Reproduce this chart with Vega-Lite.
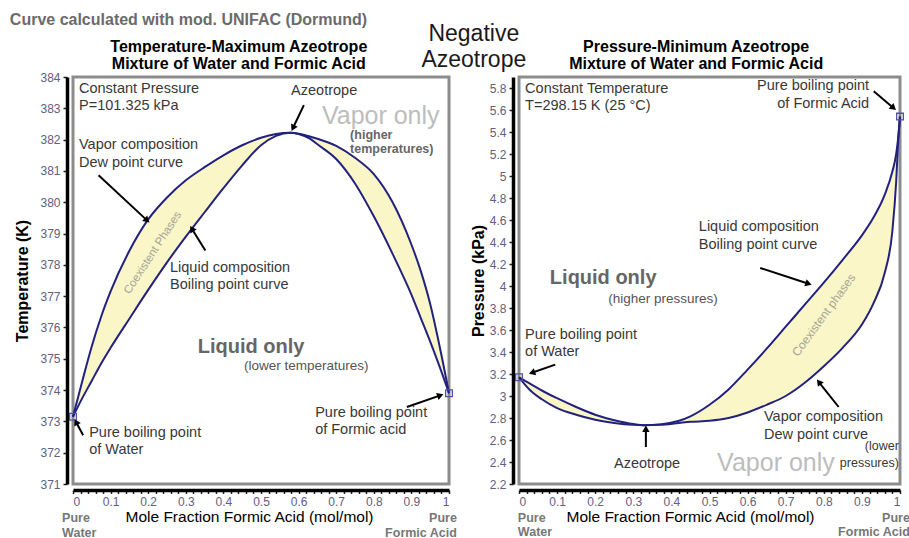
{
  "$schema": "https://vega.github.io/schema/vega-lite/v6.json",
  "padding": {"left": 8, "top": 10, "right": 0, "bottom": 0},
  "background": "white",
  "spacing": 70,
  "bounds": "flush",
  "config": {
    "font": "Liberation Sans",
    "view": {"stroke": "#8c8c8c", "strokeWidth": 3},
    "axis": {"grid": false, "domain": true, "domainColor": "black", "domainWidth": 3.5, "tickColor": "#222", "tickWidth": 1.5, "tickSize": 4, "labelColor": "#606080", "labelFont": "Liberation Sans", "labelFontSize": 12, "labelPadding": 3, "titleColor": "black", "titleFont": "Liberation Sans", "offset": 6},
    "axisX": {"tickCount": 50, "labelExpr": "round(datum.value*50) % 5 == 0 ? format(datum.value, '~g') : ''", "labelOverlap": false, "titleFontSize": 15.5, "titleFontWeight": "normal", "tickSize": 3.5, "labelPadding": 3, "titleY": 26, "titleBaseline": "middle"},
    "axisY": {"titleFontSize": 16, "titleFontWeight": "bold", "format": "~g"}
  },
  "datasets": {
    "L": [
      {"x": 0, "dew": 373.15, "bub": 373.15},
      {"x": 0.025, "dew": 374.3, "bub": 373.75},
      {"x": 0.05, "dew": 375.4, "bub": 374.3},
      {"x": 0.075, "dew": 376.35, "bub": 374.85},
      {"x": 0.1, "dew": 377.15, "bub": 375.35},
      {"x": 0.15, "dew": 378.45, "bub": 376.28},
      {"x": 0.2, "dew": 379.45, "bub": 377.2},
      {"x": 0.25, "dew": 380.15, "bub": 378.08},
      {"x": 0.3, "dew": 380.7, "bub": 378.9},
      {"x": 0.35, "dew": 381.12, "bub": 379.68},
      {"x": 0.4, "dew": 381.5, "bub": 380.45},
      {"x": 0.45, "dew": 381.82, "bub": 381.18},
      {"x": 0.5, "dew": 382.06, "bub": 381.82},
      {"x": 0.54, "dew": 382.18, "bub": 382.12},
      {"x": 0.578, "dew": 382.22, "bub": 382.22},
      {"x": 0.6, "dew": 382.19, "bub": 382.18},
      {"x": 0.63, "dew": 382.1, "bub": 382.03},
      {"x": 0.65, "dew": 382.03, "bub": 381.85},
      {"x": 0.7, "dew": 381.8, "bub": 381.38},
      {"x": 0.75, "dew": 381.42, "bub": 380.6},
      {"x": 0.8, "dew": 380.9, "bub": 379.55},
      {"x": 0.85, "dew": 380.0, "bub": 378.35},
      {"x": 0.9, "dew": 378.65, "bub": 377.05},
      {"x": 0.925, "dew": 377.8, "bub": 376.3},
      {"x": 0.95, "dew": 376.75, "bub": 375.55},
      {"x": 0.975, "dew": 375.4, "bub": 374.75},
      {"x": 1.0, "dew": 373.9, "bub": 373.9}
    ],
    "R": [
      {"x": 0, "liq": 3.17, "vap": 3.17},
      {"x": 0.03, "liq": 3.11, "vap": 3.05},
      {"x": 0.06, "liq": 3.05, "vap": 2.97},
      {"x": 0.1, "liq": 2.98, "vap": 2.89},
      {"x": 0.15, "liq": 2.9, "vap": 2.83},
      {"x": 0.2, "liq": 2.83, "vap": 2.785},
      {"x": 0.25, "liq": 2.78, "vap": 2.755},
      {"x": 0.3, "liq": 2.745, "vap": 2.738},
      {"x": 0.33, "liq": 2.735, "vap": 2.735},
      {"x": 0.37, "liq": 2.742, "vap": 2.738},
      {"x": 0.42, "liq": 2.775, "vap": 2.755},
      {"x": 0.45, "liq": 2.815, "vap": 2.765},
      {"x": 0.5, "liq": 2.92, "vap": 2.775},
      {"x": 0.55, "liq": 3.06, "vap": 2.8},
      {"x": 0.6, "liq": 3.24, "vap": 2.85},
      {"x": 0.65, "liq": 3.43, "vap": 2.92},
      {"x": 0.7, "liq": 3.63, "vap": 3.0},
      {"x": 0.75, "liq": 3.83, "vap": 3.12},
      {"x": 0.8, "liq": 4.03, "vap": 3.27},
      {"x": 0.85, "liq": 4.24, "vap": 3.44},
      {"x": 0.9, "liq": 4.46, "vap": 3.65},
      {"x": 0.93, "liq": 4.62, "vap": 3.84},
      {"x": 0.96, "liq": 4.83, "vap": 4.12},
      {"x": 0.98, "liq": 5.04, "vap": 4.5},
      {"x": 0.99, "liq": 5.2, "vap": 4.95},
      {"x": 0.995, "liq": 5.34, "vap": 5.3},
      {"x": 1.0, "liq": 5.54, "vap": 5.54}
    ],
    "Lpts": [{"x": 0, "y": 373.15}, {"x": 1, "y": 373.9}],
    "Rpts": [{"x": 0, "y": 3.17}, {"x": 1, "y": 5.54}],
    "Larr": [
      {"x": 0.614, "y": 383.1, "x2": 0.585, "y2": 382.37},
      {"x": 0.068, "y": 380.86, "x2": 0.197, "y2": 379.42},
      {"x": 0.352, "y": 378.46, "x2": 0.316, "y2": 379.15},
      {"x": 0.027, "y": 372.56, "x2": 0.008, "y2": 372.98},
      {"x": 0.888, "y": 373.46, "x2": 0.977, "y2": 373.83}
    ],
    "Rarr": [
      {"x": 0.931, "y": 5.77, "x2": 0.983, "y2": 5.618},
      {"x": 0.633, "y": 4.164, "x2": 0.76, "y2": 4.021},
      {"x": 0.095, "y": 3.285, "x2": 0.034, "y2": 3.212},
      {"x": 0.333, "y": 2.536, "x2": 0.333, "y2": 2.703},
      {"x": 0.839, "y": 2.9, "x2": 0.787, "y2": 3.127}
    ],
    "Ltxt": [
      {"x": 0.016, "y": 383.62, "t": "Constant Pressure\nP=101.325 kPa"},
      {"x": 0.016, "y": 381.82, "t": "Vapor composition\nDew point curve"},
      {"x": 0.258, "y": 377.9, "t": "Liquid composition\nBoiling point curve"},
      {"x": 0.043, "y": 372.63, "t": "Pure boiling point\nof Water"},
      {"x": 0.644, "y": 373.27, "t": "Pure boiling point\nof Formic acid"}
    ],
    "Rtxt": [
      {"x": 0.016, "y": 5.791, "t": "Constant Temperature\nT=298.15 K (25 °C)"},
      {"x": 0.472, "y": 4.536, "t": "Liquid composition\nBoiling point curve"},
      {"x": 0.016, "y": 3.555, "t": "Pure boiling point\nof Water"},
      {"x": 0.643, "y": 2.809, "t": "Vapor composition\nDew point curve"}
    ]
  },
  "hconcat": [
    {
      "width": 376,
      "height": 407,
      "layer": [
        {
          "data": {"name": "L"},
          "mark": {"type": "area", "color": "#faf6c8", "opacity": 1, "interpolate": "monotone"},
          "encoding": {
            "x": {"field": "x", "type": "quantitative", "scale": {"domain": [0, 1], "nice": false, "zero": false}, "axis": {"title": "Mole Fraction Formic Acid (mol/mol)", "titleX": 176}},
            "y": {"field": "dew", "type": "quantitative", "scale": {"domain": [371, 384], "nice": false, "zero": false}, "axis": {"title": "Temperature (K)", "tickCount": 13, "titlePadding": 9}},
            "y2": {"field": "bub"}
          }
        },
        {
          "data": {"name": "L"},
          "mark": {"type": "line", "color": "#22227e", "strokeWidth": 2, "interpolate": "monotone"},
          "encoding": {
            "x": {"field": "x", "type": "quantitative", "scale": {"domain": [0, 1], "nice": false, "zero": false}},
            "y": {"field": "dew", "type": "quantitative", "scale": {"domain": [371, 384], "nice": false, "zero": false}}
          }
        },
        {
          "data": {"name": "L"},
          "mark": {"type": "line", "color": "#22227e", "strokeWidth": 2, "interpolate": "monotone"},
          "encoding": {
            "x": {"field": "x", "type": "quantitative", "scale": {"domain": [0, 1], "nice": false, "zero": false}},
            "y": {"field": "bub", "type": "quantitative", "scale": {"domain": [371, 384], "nice": false, "zero": false}}
          }
        },
        {
          "data": {"name": "Lpts"},
          "mark": {"type": "point", "shape": "square", "filled": false, "color": "#5050a8", "size": 45, "strokeWidth": 1.3, "opacity": 1},
          "encoding": {
            "x": {"field": "x", "type": "quantitative", "scale": {"domain": [0, 1], "nice": false, "zero": false}},
            "y": {"field": "y", "type": "quantitative", "scale": {"domain": [371, 384], "nice": false, "zero": false}}
          }
        },
        {
          "data": {"name": "Larr"},
          "mark": {"type": "rule", "color": "black", "strokeWidth": 2},
          "encoding": {
            "x": {"field": "x", "type": "quantitative", "scale": {"domain": [0, 1], "nice": false, "zero": false}},
            "y": {"field": "y", "type": "quantitative", "scale": {"domain": [371, 384], "nice": false, "zero": false}},
            "x2": {"field": "x2"},
            "y2": {"field": "y2"}
          }
        },
        {
          "data": {"name": "Larr"},
          "transform": [{"calculate": "atan2((datum.x2-datum.x)*376, (datum.y2-datum.y)*31.3)*180/PI", "as": "ang"}],
          "mark": {"type": "point", "shape": "triangle-up", "filled": true, "color": "black", "size": 55, "opacity": 1},
          "encoding": {
            "x": {"field": "x2", "type": "quantitative", "scale": {"domain": [0, 1], "nice": false, "zero": false}},
            "y": {"field": "y2", "type": "quantitative", "scale": {"domain": [371, 384], "nice": false, "zero": false}},
            "angle": {"field": "ang", "type": "quantitative", "scale": null}
          }
        },
        {
          "data": {"name": "Ltxt"},
          "mark": {"type": "text", "align": "left", "baseline": "middle", "lineBreak": "\n", "lineHeight": 17.5, "fontSize": 14.5, "color": "#383838"},
          "encoding": {
            "x": {"field": "x", "type": "quantitative", "scale": {"domain": [0, 1], "nice": false, "zero": false}},
            "y": {"field": "y", "type": "quantitative", "scale": {"domain": [371, 384], "nice": false, "zero": false}},
            "text": {"field": "t"}
          }
        },
        {
          "data": {"values": [{"x": 0.668, "y": 383.55, "t": "Azeotrope"}]},
          "mark": {"type": "text", "align": "center", "baseline": "middle", "fontSize": 14.5, "color": "#383838"},
          "encoding": {
            "x": {"field": "x", "type": "quantitative", "scale": {"domain": [0, 1], "nice": false, "zero": false}},
            "y": {"field": "y", "type": "quantitative", "scale": {"domain": [371, 384], "nice": false, "zero": false}},
            "text": {"field": "t"}
          }
        },
        {
          "data": {"values": [{"x": 0.662, "y": 382.75, "t": "Vapor only"}]},
          "mark": {"type": "text", "align": "left", "baseline": "middle", "fontSize": 25, "color": "#bdbdbd"},
          "encoding": {
            "x": {"field": "x", "type": "quantitative", "scale": {"domain": [0, 1], "nice": false, "zero": false}},
            "y": {"field": "y", "type": "quantitative", "scale": {"domain": [371, 384], "nice": false, "zero": false}},
            "text": {"field": "t"}
          }
        },
        {
          "data": {"values": [{"x": 0.737, "y": 382.16, "t": "(higher\ntemperatures)"}]},
          "mark": {"type": "text", "align": "left", "baseline": "middle", "lineBreak": "\n", "lineHeight": 14.5, "fontSize": 12.5, "fontWeight": "bold", "color": "#666666"},
          "encoding": {
            "x": {"field": "x", "type": "quantitative", "scale": {"domain": [0, 1], "nice": false, "zero": false}},
            "y": {"field": "y", "type": "quantitative", "scale": {"domain": [371, 384], "nice": false, "zero": false}},
            "text": {"field": "t"}
          }
        },
        {
          "data": {"values": [{"x": 0.332, "y": 375.37, "t": "Liquid only"}]},
          "mark": {"type": "text", "align": "left", "baseline": "middle", "fontSize": 20, "fontWeight": "bold", "color": "#666666"},
          "encoding": {
            "x": {"field": "x", "type": "quantitative", "scale": {"domain": [0, 1], "nice": false, "zero": false}},
            "y": {"field": "y", "type": "quantitative", "scale": {"domain": [371, 384], "nice": false, "zero": false}},
            "text": {"field": "t"}
          }
        },
        {
          "data": {"values": [{"x": 0.455, "y": 374.77, "t": "(lower temperatures)"}]},
          "mark": {"type": "text", "align": "left", "baseline": "middle", "fontSize": 13.5, "color": "#555555"},
          "encoding": {
            "x": {"field": "x", "type": "quantitative", "scale": {"domain": [0, 1], "nice": false, "zero": false}},
            "y": {"field": "y", "type": "quantitative", "scale": {"domain": [371, 384], "nice": false, "zero": false}},
            "text": {"field": "t"}
          }
        },
        {
          "data": {"values": [{"x": 0.213, "y": 378.38, "t": "Coexistent Phases"}]},
          "mark": {"type": "text", "align": "center", "baseline": "middle", "fontSize": 11.5, "angle": -57, "color": "#a4a494"},
          "encoding": {
            "x": {"field": "x", "type": "quantitative", "scale": {"domain": [0, 1], "nice": false, "zero": false}},
            "y": {"field": "y", "type": "quantitative", "scale": {"domain": [371, 384], "nice": false, "zero": false}},
            "text": {"field": "t"}
          }
        },
        {
          "data": {"values": [{"x": -0.029, "y": 369.91, "t": "Pure\nWater"}]},
          "mark": {"type": "text", "align": "left", "baseline": "middle", "lineBreak": "\n", "lineHeight": 14.5, "fontSize": 12.5, "fontWeight": "bold", "color": "#777777"},
          "encoding": {
            "x": {"field": "x", "type": "quantitative", "scale": {"domain": [0, 1], "nice": false, "zero": false}},
            "y": {"field": "y", "type": "quantitative", "scale": {"domain": [371, 384], "nice": false, "zero": false}},
            "text": {"field": "t"}
          }
        },
        {
          "data": {"values": [{"x": 1.021, "y": 369.91, "t": "Pure\nFormic Acid"}]},
          "mark": {"type": "text", "align": "right", "baseline": "middle", "lineBreak": "\n", "lineHeight": 14.5, "fontSize": 12.5, "fontWeight": "bold", "color": "#777777"},
          "encoding": {
            "x": {"field": "x", "type": "quantitative", "scale": {"domain": [0, 1], "nice": false, "zero": false}},
            "y": {"field": "y", "type": "quantitative", "scale": {"domain": [371, 384], "nice": false, "zero": false}},
            "text": {"field": "t"}
          }
        },
        {
          "data": {"values": [{"x": -0.168, "y": 385.82, "t": "Curve calculated with mod. UNIFAC (Dormund)"}]},
          "mark": {"type": "text", "align": "left", "baseline": "middle", "fontSize": 16, "fontWeight": "bold", "color": "#6b6b6b"},
          "encoding": {
            "x": {"field": "x", "type": "quantitative", "scale": {"domain": [0, 1], "nice": false, "zero": false}},
            "y": {"field": "y", "type": "quantitative", "scale": {"domain": [371, 384], "nice": false, "zero": false}},
            "text": {"field": "t"}
          }
        },
        {
          "data": {"values": [{"x": 0.441, "y": 384.96, "t": "Temperature-Maximum Azeotrope\nMixture of Water and Formic Acid"}]},
          "mark": {"type": "text", "align": "center", "baseline": "middle", "lineBreak": "\n", "lineHeight": 17.5, "fontSize": 16, "fontWeight": "bold", "color": "black"},
          "encoding": {
            "x": {"field": "x", "type": "quantitative", "scale": {"domain": [0, 1], "nice": false, "zero": false}},
            "y": {"field": "y", "type": "quantitative", "scale": {"domain": [371, 384], "nice": false, "zero": false}},
            "text": {"field": "t"}
          }
        },
        {
          "data": {"values": [{"x": 1.066, "y": 385.37, "t": "Negative\nAzeotrope"}]},
          "mark": {"type": "text", "align": "center", "baseline": "middle", "lineBreak": "\n", "lineHeight": 26, "fontSize": 23, "color": "#1a1a1a"},
          "encoding": {
            "x": {"field": "x", "type": "quantitative", "scale": {"domain": [0, 1], "nice": false, "zero": false}},
            "y": {"field": "y", "type": "quantitative", "scale": {"domain": [371, 384], "nice": false, "zero": false}},
            "text": {"field": "t"}
          }
        }
      ]
    },
    {
      "width": 381,
      "height": 407,
      "layer": [
        {
          "data": {"name": "R"},
          "mark": {"type": "area", "color": "#faf6c8", "opacity": 1, "interpolate": "monotone"},
          "encoding": {
            "x": {"field": "x", "type": "quantitative", "scale": {"domain": [0, 1], "nice": false, "zero": false}, "axis": {"title": "Mole Fraction Formic Acid (mol/mol)", "titleX": 171}},
            "y": {"field": "liq", "type": "quantitative", "scale": {"domain": [2.2, 5.9], "nice": false, "zero": false}, "axis": {"title": "Pressure (kPa)", "tickCount": 18, "titlePadding": 3}},
            "y2": {"field": "vap"}
          }
        },
        {
          "data": {"name": "R"},
          "mark": {"type": "line", "color": "#22227e", "strokeWidth": 2, "interpolate": "monotone"},
          "encoding": {
            "x": {"field": "x", "type": "quantitative", "scale": {"domain": [0, 1], "nice": false, "zero": false}},
            "y": {"field": "liq", "type": "quantitative", "scale": {"domain": [2.2, 5.9], "nice": false, "zero": false}}
          }
        },
        {
          "data": {"name": "R"},
          "mark": {"type": "line", "color": "#22227e", "strokeWidth": 2, "interpolate": "monotone"},
          "encoding": {
            "x": {"field": "x", "type": "quantitative", "scale": {"domain": [0, 1], "nice": false, "zero": false}},
            "y": {"field": "vap", "type": "quantitative", "scale": {"domain": [2.2, 5.9], "nice": false, "zero": false}}
          }
        },
        {
          "data": {"name": "Rpts"},
          "mark": {"type": "point", "shape": "square", "filled": false, "color": "#5050a8", "size": 45, "strokeWidth": 1.3, "opacity": 1},
          "encoding": {
            "x": {"field": "x", "type": "quantitative", "scale": {"domain": [0, 1], "nice": false, "zero": false}},
            "y": {"field": "y", "type": "quantitative", "scale": {"domain": [2.2, 5.9], "nice": false, "zero": false}}
          }
        },
        {
          "data": {"name": "Rarr"},
          "mark": {"type": "rule", "color": "black", "strokeWidth": 2},
          "encoding": {
            "x": {"field": "x", "type": "quantitative", "scale": {"domain": [0, 1], "nice": false, "zero": false}},
            "y": {"field": "y", "type": "quantitative", "scale": {"domain": [2.2, 5.9], "nice": false, "zero": false}},
            "x2": {"field": "x2"},
            "y2": {"field": "y2"}
          }
        },
        {
          "data": {"name": "Rarr"},
          "transform": [{"calculate": "atan2((datum.x2-datum.x)*381, (datum.y2-datum.y)*110)*180/PI", "as": "ang"}],
          "mark": {"type": "point", "shape": "triangle-up", "filled": true, "color": "black", "size": 55, "opacity": 1},
          "encoding": {
            "x": {"field": "x2", "type": "quantitative", "scale": {"domain": [0, 1], "nice": false, "zero": false}},
            "y": {"field": "y2", "type": "quantitative", "scale": {"domain": [2.2, 5.9], "nice": false, "zero": false}},
            "angle": {"field": "ang", "type": "quantitative", "scale": null}
          }
        },
        {
          "data": {"name": "Rtxt"},
          "mark": {"type": "text", "align": "left", "baseline": "middle", "lineBreak": "\n", "lineHeight": 17.5, "fontSize": 14.5, "color": "#383838"},
          "encoding": {
            "x": {"field": "x", "type": "quantitative", "scale": {"domain": [0, 1], "nice": false, "zero": false}},
            "y": {"field": "y", "type": "quantitative", "scale": {"domain": [2.2, 5.9], "nice": false, "zero": false}},
            "text": {"field": "t"}
          }
        },
        {
          "data": {"values": [{"x": 0.919, "y": 5.818, "t": "Pure boiling point\nof Formic Acid"}]},
          "mark": {"type": "text", "align": "right", "baseline": "middle", "lineBreak": "\n", "lineHeight": 17.5, "fontSize": 14.5, "color": "#383838"},
          "encoding": {
            "x": {"field": "x", "type": "quantitative", "scale": {"domain": [0, 1], "nice": false, "zero": false}},
            "y": {"field": "y", "type": "quantitative", "scale": {"domain": [2.2, 5.9], "nice": false, "zero": false}},
            "text": {"field": "t"}
          }
        },
        {
          "data": {"values": [{"x": 0.997, "y": 2.545, "t": "(lower\npressures)"}]},
          "mark": {"type": "text", "align": "right", "baseline": "middle", "lineBreak": "\n", "lineHeight": 17, "fontSize": 12.5, "color": "#383838"},
          "encoding": {
            "x": {"field": "x", "type": "quantitative", "scale": {"domain": [0, 1], "nice": false, "zero": false}},
            "y": {"field": "y", "type": "quantitative", "scale": {"domain": [2.2, 5.9], "nice": false, "zero": false}},
            "text": {"field": "t"}
          }
        },
        {
          "data": {"values": [{"x": 0.336, "y": 2.382, "t": "Azeotrope"}]},
          "mark": {"type": "text", "align": "center", "baseline": "middle", "fontSize": 14.5, "color": "#383838"},
          "encoding": {
            "x": {"field": "x", "type": "quantitative", "scale": {"domain": [0, 1], "nice": false, "zero": false}},
            "y": {"field": "y", "type": "quantitative", "scale": {"domain": [2.2, 5.9], "nice": false, "zero": false}},
            "text": {"field": "t"}
          }
        },
        {
          "data": {"values": [{"x": 0.52, "y": 2.39, "t": "Vapor only"}]},
          "mark": {"type": "text", "align": "left", "baseline": "middle", "fontSize": 25, "color": "#bdbdbd"},
          "encoding": {
            "x": {"field": "x", "type": "quantitative", "scale": {"domain": [0, 1], "nice": false, "zero": false}},
            "y": {"field": "y", "type": "quantitative", "scale": {"domain": [2.2, 5.9], "nice": false, "zero": false}},
            "text": {"field": "t"}
          }
        },
        {
          "data": {"values": [{"x": 0.081, "y": 4.073, "t": "Liquid only"}]},
          "mark": {"type": "text", "align": "left", "baseline": "middle", "fontSize": 20, "fontWeight": "bold", "color": "#666666"},
          "encoding": {
            "x": {"field": "x", "type": "quantitative", "scale": {"domain": [0, 1], "nice": false, "zero": false}},
            "y": {"field": "y", "type": "quantitative", "scale": {"domain": [2.2, 5.9], "nice": false, "zero": false}},
            "text": {"field": "t"}
          }
        },
        {
          "data": {"values": [{"x": 0.234, "y": 3.882, "t": "(higher pressures)"}]},
          "mark": {"type": "text", "align": "left", "baseline": "middle", "fontSize": 13.5, "color": "#555555"},
          "encoding": {
            "x": {"field": "x", "type": "quantitative", "scale": {"domain": [0, 1], "nice": false, "zero": false}},
            "y": {"field": "y", "type": "quantitative", "scale": {"domain": [2.2, 5.9], "nice": false, "zero": false}},
            "text": {"field": "t"}
          }
        },
        {
          "data": {"values": [{"x": 0.8, "y": 3.736, "t": "Coexistent phases"}]},
          "mark": {"type": "text", "align": "center", "baseline": "middle", "fontSize": 12, "angle": -54, "color": "#a4a494"},
          "encoding": {
            "x": {"field": "x", "type": "quantitative", "scale": {"domain": [0, 1], "nice": false, "zero": false}},
            "y": {"field": "y", "type": "quantitative", "scale": {"domain": [2.2, 5.9], "nice": false, "zero": false}},
            "text": {"field": "t"}
          }
        },
        {
          "data": {"values": [{"x": -0.003, "y": 1.891, "t": "Pure\nWater"}]},
          "mark": {"type": "text", "align": "left", "baseline": "middle", "lineBreak": "\n", "lineHeight": 14.5, "fontSize": 12.5, "fontWeight": "bold", "color": "#777777"},
          "encoding": {
            "x": {"field": "x", "type": "quantitative", "scale": {"domain": [0, 1], "nice": false, "zero": false}},
            "y": {"field": "y", "type": "quantitative", "scale": {"domain": [2.2, 5.9], "nice": false, "zero": false}},
            "text": {"field": "t"}
          }
        },
        {
          "data": {"values": [{"x": 1.026, "y": 1.891, "t": "Pure\nFormic Acid"}]},
          "mark": {"type": "text", "align": "right", "baseline": "middle", "lineBreak": "\n", "lineHeight": 14.5, "fontSize": 12.5, "fontWeight": "bold", "color": "#777777"},
          "encoding": {
            "x": {"field": "x", "type": "quantitative", "scale": {"domain": [0, 1], "nice": false, "zero": false}},
            "y": {"field": "y", "type": "quantitative", "scale": {"domain": [2.2, 5.9], "nice": false, "zero": false}},
            "text": {"field": "t"}
          }
        },
        {
          "data": {"values": [{"x": 0.465, "y": 6.173, "t": "Pressure-Minimum Azeotrope\nMixture of Water and Formic Acid"}]},
          "mark": {"type": "text", "align": "center", "baseline": "middle", "lineBreak": "\n", "lineHeight": 17.5, "fontSize": 16, "fontWeight": "bold", "color": "black"},
          "encoding": {
            "x": {"field": "x", "type": "quantitative", "scale": {"domain": [0, 1], "nice": false, "zero": false}},
            "y": {"field": "y", "type": "quantitative", "scale": {"domain": [2.2, 5.9], "nice": false, "zero": false}},
            "text": {"field": "t"}
          }
        }
      ]
    }
  ]
}
